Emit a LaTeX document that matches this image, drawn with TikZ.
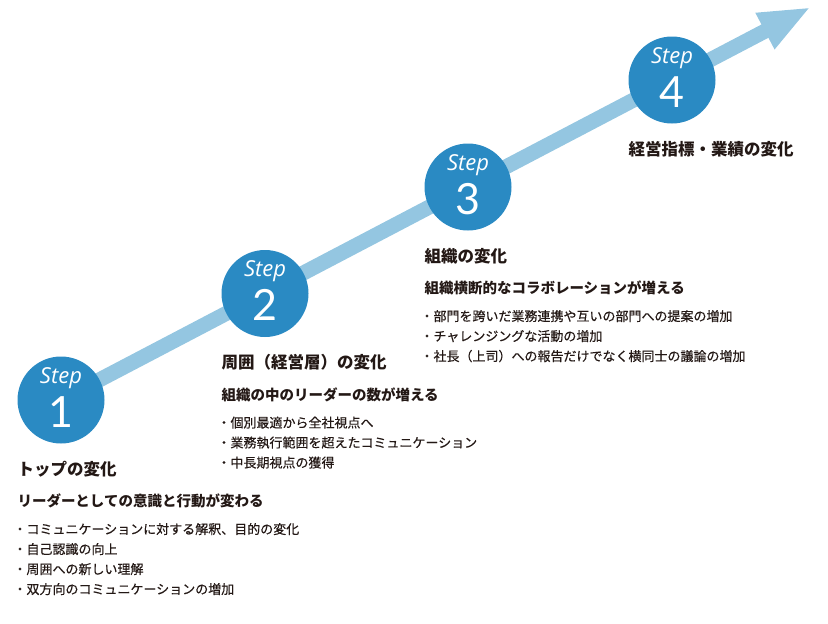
\documentclass[tikz,border=0pt]{standalone}
\usepackage{fontspec}
\setmainfont{Noto Sans CJK JP}
\newfontfamily\jp{Noto Sans CJK JP}
\newfontfamily\jpmed{Noto Sans CJK JP}[FakeBold=0.4]
\newfontfamily\stepfont{Open Sans}
\newfontfamily\numfont{Lato}
\usetikzlibrary{positioning, arrows.meta}

\definecolor{stepblue}{HTML}{2A8AC3}
\definecolor{arrowblue}{HTML}{94C6E1}
\definecolor{ink}{HTML}{231815}

\tikzset{
	stepdot/.style={circle, fill=stepblue, minimum size=87pt, inner sep=0pt},
	steplbl/.style={text=white, inner sep=0pt, font=\stepfont\itshape\fontsize{22}{22}\selectfont},
	stepnum/.style={text=white, inner sep=0pt, font=\numfont\fontsize{43}{43}\selectfont},
	head/.style={text=ink, inner sep=0pt, font=\jp\bfseries\fontsize{16.5}{18}\selectfont},
	sub/.style={text=ink, inner sep=0pt, font=\jp\bfseries\fontsize{14.5}{16}\selectfont},
	item/.style={text=ink, inner sep=0pt, font=\jpmed\fontsize{13}{15}\selectfont},
}

\begin{document}
\begin{tikzpicture}[x=1pt, y=-1pt]
	\useasboundingbox (0,0) rectangle (828,624);
	\coordinate (tip) at (811,7);
	\coordinate (tail) at (61,400);
	\draw[arrowblue, line width=15pt, -{Triangle[length=52pt, width=37pt]}] (tail) -- (tip);

	% steps on the arrow
	\node[stepdot] (s1) at (61,400) {};
	\node[stepdot] (s2) at (265,293.5) {};
	\node[stepdot] (s3) at (468,187) {};
	\node[stepdot] (s4) at (672,80) {};
	\node[steplbl, anchor=base] (p1) at ([yshift=17pt]s1.center) {Step};
	\node[steplbl, anchor=base] (p2) at ([yshift=17pt]s2.center) {Step};
	\node[steplbl, anchor=base] (p3) at ([yshift=17pt]s3.center) {Step};
	\node[steplbl, anchor=base] (p4) at ([yshift=17pt]s4.center) {Step};
	\node[stepnum, anchor=base] (n1) at ([yshift=-27pt]s1.center) {1};
	\node[stepnum, anchor=base] (n2) at ([yshift=-27pt]s2.center) {2};
	\node[stepnum, anchor=base] (n3) at ([yshift=-27pt]s3.center) {3};
	\node[stepnum, anchor=base] (n4) at ([yshift=-27pt]s4.center) {4};

	% step 1
	\node[head, anchor=base west] (h1) at ([yshift=-75pt]s1.west) {トップの変化};
	\node[sub, anchor=base west] (g1) at ([yshift=-31.5pt]h1.base west) {リーダーとしての意識と行動が変わる};
	\node[item, anchor=base west] (b11) at ([xshift=-4pt, yshift=-27.5pt]g1.base west) {・コミュニケーションに対する解釈、目的の変化};
	\node[item, anchor=base west] (b12) at ([yshift=-20pt]b11.base west) {・自己認識の向上};
	\node[item, anchor=base west] (b13) at ([yshift=-20pt]b12.base west) {・周囲への新しい理解};
	\node[item, anchor=base west] (b14) at ([yshift=-20pt]b13.base west) {・双方向のコミュニケーションの増加};

	% step 2
	\node[head, anchor=base west] (h2) at ([yshift=-75pt]s2.west) {周囲（経営層）の変化};
	\node[sub, anchor=base west] (g2) at ([yshift=-31.5pt]h2.base west) {組織の中のリーダーの数が増える};
	\node[item, anchor=base west] (b21) at ([xshift=-4pt, yshift=-27.5pt]g2.base west) {・個別最適から全社視点へ};
	\node[item, anchor=base west] (b22) at ([yshift=-20pt]b21.base west) {・業務執行範囲を超えたコミュニケーション};
	\node[item, anchor=base west] (b23) at ([yshift=-20pt]b22.base west) {・中長期視点の獲得};

	% step 3
	\node[head, anchor=base west] (h3) at ([yshift=-75pt]s3.west) {組織の変化};
	\node[sub, anchor=base west] (g3) at ([yshift=-31.5pt]h3.base west) {組織横断的なコラボレーションが増える};
	\node[item, anchor=base west] (b31) at ([xshift=-4pt, yshift=-27.5pt]g3.base west) {・部門を跨いだ業務連携や互いの部門への提案の増加};
	\node[item, anchor=base west] (b32) at ([yshift=-20pt]b31.base west) {・チャレンジングな活動の増加};
	\node[item, anchor=base west] (b33) at ([yshift=-20pt]b32.base west) {・社長（上司）への報告だけでなく横同士の議論の増加};

	% step 4
	\node[head, anchor=base west] (h4) at ([yshift=-75pt]s4.west) {経営指標・業績の変化};
\end{tikzpicture}
\end{document}
